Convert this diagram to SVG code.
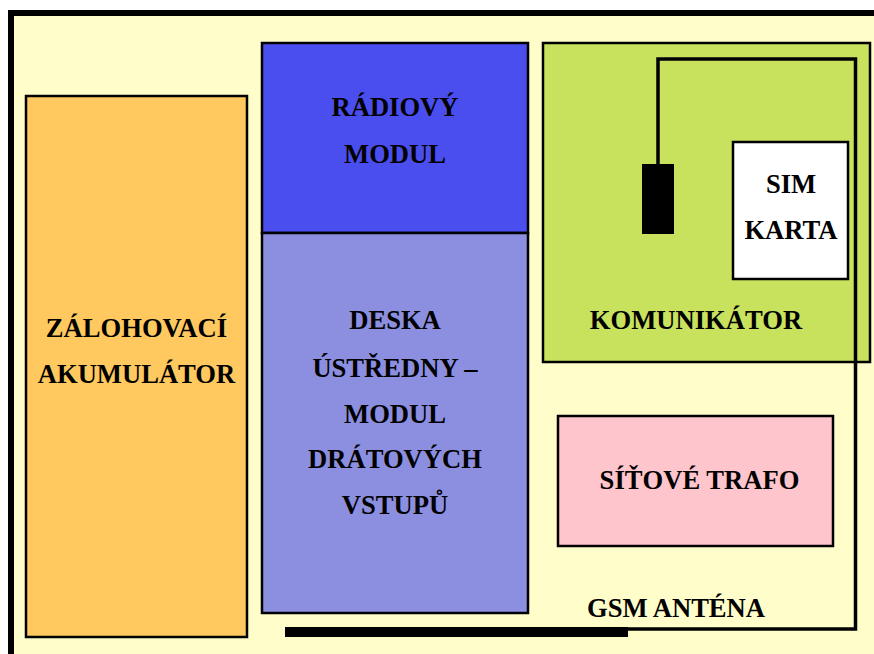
<svg xmlns="http://www.w3.org/2000/svg" width="874" height="654" viewBox="0 0 874 654">
  <style>
    .box { stroke: #000; stroke-width: 2.5; }
    .lbl { font-family: "Liberation Serif", "Times New Roman", serif; font-weight: bold; font-size: 26.6px; fill: #000; text-anchor: middle; }
    .wire { fill: none; stroke: #000; stroke-width: 3.5; stroke-linejoin: miter; }
  </style>
  <rect width="874" height="654" fill="#ffffff"/>
  <!-- enclosure -->
  <rect id="enclosure" x="11" y="13" width="900" height="700" fill="#fffdc9" stroke="#000" stroke-width="6"/>

  <g id="akumulator">
    <rect class="box" x="26" y="96" width="221" height="541" fill="#ffc95f"/>
    <text class="lbl" x="136.5" y="337">ZÁLOHOVACÍ</text>
    <text class="lbl" x="136.5" y="383">AKUMULÁTOR</text>
  </g>

  <g id="radiovy-modul">
    <rect class="box" x="262" y="43" width="266" height="190" fill="#4b4eee"/>
    <text class="lbl" x="395" y="116">RÁDIOVÝ</text>
    <text class="lbl" x="395" y="163">MODUL</text>
  </g>

  <g id="deska-ustredny">
    <rect class="box" x="262" y="233" width="266" height="380" fill="#8c8fe0"/>
    <text class="lbl" x="395" y="329">DESKA</text>
    <text class="lbl" x="395" y="377">ÚSTŘEDNY –</text>
    <text class="lbl" x="395" y="423">MODUL</text>
    <text class="lbl" x="395" y="468">DRÁTOVÝCH</text>
    <text class="lbl" x="395" y="514">VSTUPŮ</text>
  </g>

  <g id="komunikator">
    <rect class="box" x="543" y="43" width="327" height="319" fill="#c8e25e"/>
    <text class="lbl" x="696" y="329">KOMUNIKÁTOR</text>
  </g>

  <g id="sim-karta">
    <rect class="box" x="733" y="142" width="115" height="137" fill="#ffffff"/>
    <text class="lbl" x="791" y="193">SIM</text>
    <text class="lbl" x="791" y="239">KARTA</text>
  </g>

  <g id="sitove-trafo">
    <rect class="box" x="558" y="416" width="275" height="130" fill="#ffc5cc"/>
    <text class="lbl" x="699.5" y="489">SÍŤOVÉ TRAFO</text>
  </g>

  <g id="connectors">
    <!-- antenna cable from the GSM module to the external antenna -->
    <path class="wire" d="M658 164 V59 H855.5 V629 H620"/>
    <rect id="gsm-modul" x="642" y="164" width="32" height="70" fill="#000"/>
    <rect id="antena" x="285" y="627" width="343" height="10" fill="#000"/>
  </g>

  <g id="gsm-antena-label">
    <text class="lbl" x="676" y="617">GSM ANTÉNA</text>
  </g>
</svg>
